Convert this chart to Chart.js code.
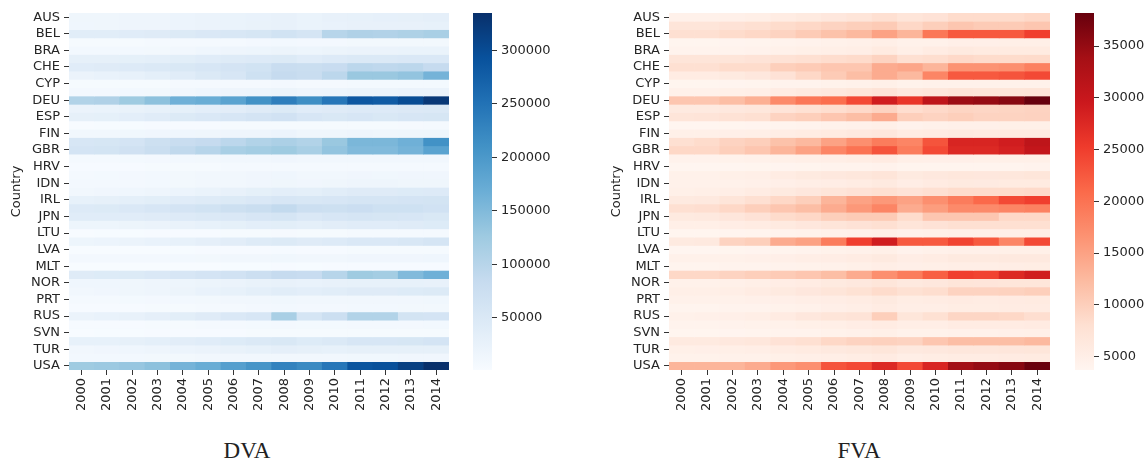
<!DOCTYPE html>
<html>
<head>
<meta charset="utf-8">
<script src="https://cdn.jsdelivr.net/npm/chart.js@4.4.1/dist/chart.umd.min.js"></script>
<style>
  html, body { margin: 0; padding: 0; background: #fff; }
  #wrap { position: relative; width: 1147px; height: 460px; overflow: hidden; background: #fff; }
  canvas { position: absolute; top: 0; }
  .caption { position: absolute; top: 439px; line-height: 23px; font-family: "Liberation Serif", "Times New Roman", serif; font-size: 23px; color: #222; transform: translateX(-50%); }
</style>
</head>
<body>
<div id="wrap">
  <canvas id="dvaMap" style="left:0px" width="455" height="425"></canvas>
  <canvas id="dvaBar" style="left:468px" width="112" height="425"></canvas>
  <canvas id="fvaMap" style="left:600px" width="456" height="425"></canvas>
  <canvas id="fvaBar" style="left:1070px" width="77" height="425"></canvas>
  <div class="caption" style="left:247px">DVA</div>
  <div class="caption" style="left:859px">FVA</div>
</div>
<script>
const years = ["2000","2001","2002","2003","2004","2005","2006","2007","2008","2009","2010","2011","2012","2013","2014"];
const countries = ["AUS","AUT","BEL","BGR","BRA","CAN","CHE","CHN","CYP","CZE","DEU","DNK","ESP","EST","FIN","FRA","GBR","GRC","HRV","HUN","IDN","IND","IRL","ITA","JPN","KOR","LTU","LUX","LVA","MEX","MLT","NLD","NOR","POL","PRT","ROU","RUS","SVK","SVN","SWE","TUR","TWN","USA"];

// one row per country, one value per year
const dvaRows = [
  [15000,15000,16000,17000,19000,21000,23000,24000,27000,23000,26000,28000,29000,30000,32000], // AUS
  [14000,15000,16000,17000,19000,21000,23000,25000,27000,23000,24000,26000,26000,27000,28000], // AUT
  [38000,38000,40000,42000,46000,50000,53000,56000,65000,58000,100000,108000,106000,110000,115000], // BEL
  [4000,4500,5000,5500,6000,6500,7000,8000,9000,8000,8500,9500,9500,10000,10000], // BGR
  [9000,9000,9000,10000,12000,14000,16000,18000,20000,18000,20000,22000,22000,23000,23000], // BRA
  [30000,30000,31000,33000,36000,40000,43000,45000,46000,40000,45000,48000,48000,50000,50000], // CAN
  [40000,42000,45000,48000,52000,55000,60000,65000,80000,78000,82000,95000,92000,95000,85000], // CHE
  [22000,24000,28000,33000,40000,48000,55000,70000,85000,80000,95000,130000,130000,135000,160000], // CHN
  [4000,4000,4500,5000,5500,6000,6500,7000,8000,7000,7000,7500,7500,7500,7500], // CYP
  [8000,8500,9000,10000,12000,14000,16000,18000,20000,17000,18000,20000,20000,21000,22000], // CZE
  [105000,108000,125000,140000,165000,170000,185000,210000,235000,215000,245000,285000,280000,300000,325000], // DEU
  [22000,23000,25000,28000,31000,34000,37000,42000,46000,40000,42000,45000,45000,47000,49000], // DNK
  [30000,31000,34000,40000,46000,50000,55000,60000,66000,55000,52000,55000,52000,55000,57000], // ESP
  [2000,2200,2400,2800,3200,3600,4000,4500,5000,4200,4400,5000,5000,5200,5400], // EST
  [12000,12000,12500,13000,14000,15000,16000,17000,19000,15000,15000,16000,15000,15500,15500], // FIN
  [55000,56000,60000,72000,80000,85000,95000,105000,112000,105000,130000,155000,155000,165000,210000], // FRA
  [60000,62000,68000,78000,90000,100000,115000,120000,125000,115000,135000,150000,150000,160000,185000], // GBR
  [7000,7000,7500,8000,9000,10000,11000,12000,13000,11000,11000,11000,10500,10500,11000], // GRC
  [3000,3200,3500,4000,4500,5000,5500,6000,6500,5500,5500,5500,5500,5600,5800], // HRV
  [7000,7500,8000,9000,10000,11000,12000,13000,14000,12000,12000,13000,12500,13000,13500], // HUN
  [8000,8000,8500,9000,10000,11000,12000,13000,15000,13000,15000,17000,16000,15000,15000], // IDN
  [12000,13000,14000,16000,19000,23000,27000,31000,35000,33000,38000,42000,42000,44000,45000], // IND
  [28000,30000,33000,36000,40000,43000,46000,50000,55000,53000,55000,58000,58000,60000,62000], // IRL
  [45000,46000,50000,55000,60000,65000,72000,78000,88000,75000,72000,76000,70000,70000,66000], // ITA
  [40000,40000,40000,42000,45000,48000,50000,55000,58000,50000,55000,58000,56000,55000,52000], // JPN
  [18000,18000,20000,22000,25000,28000,31000,35000,36000,33000,37000,40000,40000,42000,44000], // KOR
  [2000,2200,2500,2800,3200,3600,4000,4600,5200,4500,5000,5800,6000,6200,6400], // LTU
  [18000,19000,21000,24000,28000,32000,37000,43000,46000,42000,45000,50000,50000,53000,58000], // LUX
  [1500,1600,1800,2000,2300,2600,3000,3500,3800,3400,3600,4000,4200,4300,4400], // LVA
  [8000,8000,8000,8500,9000,10000,11000,12000,12500,11000,12000,13000,13000,13500,14000], // MEX
  [1200,1300,1400,1500,1700,1900,2100,2400,2600,2400,2600,2800,3000,3200,3400], // MLT
  [42000,44000,46000,50000,55000,60000,66000,75000,85000,82000,100000,125000,120000,150000,165000], // NLD
  [14000,14000,15000,16000,18000,20000,22000,25000,27000,24000,26000,28000,28000,28000,27000], // NOR
  [12000,13000,15000,17000,20000,24000,28000,33000,38000,35000,38000,42000,42000,44000,46000], // POL
  [7000,7000,7500,8000,9000,9500,10500,11500,12500,11000,11000,11500,11500,12000,12500], // PRT
  [3000,3300,3700,4200,5000,6000,7000,8000,9000,8000,8500,9000,9000,9500,10000], // ROU
  [22000,24000,27000,32000,36000,42000,50000,55000,115000,58000,75000,105000,105000,62000,60000], // RUS
  [3000,3300,3700,4200,5000,5800,6500,7500,8500,7500,7500,8000,8000,8500,9000], // SVK
  [2000,2200,2400,2700,3000,3300,3700,4200,4800,4200,4200,4400,4400,4600,4800], // SVN
  [28000,28000,30000,33000,37000,40000,44000,48000,52000,44000,48000,55000,55000,57000,60000], // SWE
  [12000,13000,14000,16000,19000,22000,25000,28000,32000,30000,28000,30000,30000,30000,30000], // TUR
  [9000,9000,9000,9500,10000,10500,11000,11500,12000,11000,12000,12500,12500,13000,13500], // TWN
  [125000,128000,132000,140000,160000,170000,190000,205000,230000,220000,245000,290000,295000,315000,335000] // USA
];

const fvaRows = [
  [4500,4500,4700,5000,5500,6000,6500,7000,8000,7000,7500,8500,8500,8500,9000], // AUS
  [7000,7000,7500,8000,8500,9000,9500,10000,10500,9000,10000,11000,10500,10500,11000], // AUT
  [8000,8000,8500,9000,9500,10500,11500,12500,15000,13000,19500,22500,22500,22500,25000], // BEL
  [3800,3800,3900,4000,4100,4300,4500,4700,5000,4500,4600,4900,4900,5000,5000], // BGR
  [4200,4200,4200,4300,4500,4800,5000,5200,5800,5000,5500,6000,5800,5800,5800], // BRA
  [7000,7000,7000,7300,7600,8000,8400,8600,9500,8000,8300,8800,8500,8500,8600], // CAN
  [8000,8000,8500,8500,10000,10500,11000,11000,14000,14500,13000,16500,16500,17000,18500], // CHE
  [5500,5500,6000,6500,7500,9000,10500,12000,14000,12500,18000,22500,22500,23000,24000], // CHN
  [3800,3800,3900,4000,4100,4200,4400,4600,4800,4400,4500,4600,4600,4600,4600], // CYP
  [4500,4600,4800,5000,5500,6000,6300,6800,7300,6300,6700,7200,7000,7000,7200], // CZE
  [11000,11000,12000,13500,17500,19500,20500,24000,29000,26000,31000,34500,35000,36000,38200], // DEU
  [6000,6000,6300,6600,7200,7800,8300,8800,9500,8300,8800,9300,9200,9300,9500], // DNK
  [7000,7200,7600,8000,9500,10000,11000,12000,14000,10000,9500,10000,9500,9500,9600], // ESP
  [3700,3700,3800,3900,4000,4200,4400,4600,4800,4300,4500,4700,4700,4800,4800], // EST
  [4800,4800,4900,5000,5300,5500,5800,6200,6500,5500,5700,6000,5800,5800,5800], // FIN
  [8000,8500,9500,10000,11500,12500,15000,17000,19000,18000,23000,28000,28000,29000,31000], // FRA
  [9000,9000,10000,11000,13000,15000,18000,20000,23000,19000,24000,27500,27500,28500,30500], // GBR
  [4300,4300,4400,4500,4800,5000,5200,5400,5700,5000,4900,4900,4800,4800,4800], // GRC
  [3700,3700,3700,3800,3900,4000,4100,4200,4300,4000,4000,4000,4000,4000,4100], // HRV
  [4500,4600,4800,5000,5500,6000,6300,6600,7000,6000,6300,6600,6500,6600,6800], // HUN
  [4500,4500,4600,4700,4900,5100,5300,5500,6000,5300,5700,6000,5900,5800,5800], // IDN
  [4800,5000,5200,5500,6000,6500,7000,7500,8000,7300,8000,8500,8500,8500,8700], // IND
  [6000,6200,7000,8000,9000,10000,13000,15000,16000,15000,17000,19000,21000,24000,25000], // IRL
  [8000,8200,9000,10000,11000,12000,14000,16000,18000,14000,15500,17500,17500,18000,18500], // ITA
  [6000,6200,6700,7500,8500,9000,10000,10500,10500,8500,11000,11000,11000,9000,9000], // JPN
  [5000,5000,5300,5600,6000,6500,7000,7500,8000,7000,7500,8000,8000,8000,8000], // KOR
  [3800,3800,3900,4000,4100,4300,4500,4700,5000,4500,4700,4900,4900,5000,5000], // LTU
  [6000,6200,9500,10000,14000,15000,19000,25000,29000,22500,22500,24500,22500,18000,24000], // LUX
  [3700,3700,3800,3900,4000,4200,4400,4600,4800,4300,4500,4700,4700,4800,4800], // LVA
  [4500,4500,4600,4700,4900,5100,5300,5600,6000,5300,5600,6000,6000,6100,6200], // MEX
  [4000,4000,4100,4200,4300,4400,4600,4800,5200,4900,5000,5200,5200,5300,5400], // MLT
  [9000,9000,9500,10000,10500,11000,12000,14000,17000,19000,22000,25000,24500,27500,29000], // NLD
  [4500,4500,4700,5000,5300,5600,6000,6300,6800,6200,6500,7000,6900,6800,6800], // NOR
  [5000,5000,5200,5500,6000,6500,7000,7700,8500,7800,8300,9500,9500,9700,10000], // POL
  [4500,4500,4600,4700,4900,5100,5300,5600,6000,5400,5500,5700,5600,5700,5800], // PRT
  [4000,4000,4100,4200,4400,4600,4900,5200,5600,5100,5200,5400,5400,5500,5600], // ROU
  [4600,4700,4900,5200,5700,6500,7000,7300,10000,6800,7800,9200,9200,9000,8200], // RUS
  [4200,4200,4300,4400,4600,4800,5000,5300,5600,5100,5200,5500,5500,5600,5700], // SVK
  [3800,3800,3900,4000,4100,4200,4400,4600,4800,4400,4400,4600,4600,4700,4800], // SVN
  [6000,6000,6300,6600,7500,8000,9000,9500,9800,9500,11000,12000,12000,12000,12500], // SWE
  [4800,4900,5000,5200,5500,5800,6100,6400,6800,6200,6300,6600,6600,6700,6800], // TUR
  [4400,4400,4500,4600,4800,5000,5200,5400,5700,5100,5400,5600,5600,5700,5800], // TWN
  [13000,13000,13000,14000,16000,17000,23000,24000,27500,24000,28000,34000,35000,36000,38000] // USA
];

const dvaTicks = [50000, 100000, 150000, 200000, 250000, 300000];
const fvaTicks = [5000, 10000, 15000, 20000, 25000, 30000, 35000];

const blues = ["#f7fbff","#deebf7","#c6dbef","#9ecae1","#6baed6","#4292c6","#2171b5","#08519c","#08306b"];
const reds = ["#fff5f0","#fee0d2","#fcbba1","#fc9272","#fb6a4a","#ef3b2c","#cb181d","#a50f15","#67000d"];

const tickFont = { family: "'DejaVu Sans', sans-serif", size: 13 };
const textColor = "#262626";

function hexToRgb(h) {
  return [parseInt(h.slice(1, 3), 16), parseInt(h.slice(3, 5), 16), parseInt(h.slice(5, 7), 16)];
}

function cmap(stops, t) {
  t = Math.max(0, Math.min(1, t));
  const p = t * (stops.length - 1);
  const i = Math.min(Math.floor(p), stops.length - 2);
  const f = p - i;
  const a = hexToRgb(stops[i]), b = hexToRgb(stops[i + 1]);
  const c = a.map((v, k) => Math.round(v + (b[k] - v) * f));
  return `rgb(${c[0]},${c[1]},${c[2]})`;
}

function drawHeatmap(id, rows, stops) {
  const all = rows.flat();
  const vmin = Math.min(...all);
  const vmax = Math.max(...all);

  const datasets = countries.map((name, i) => ({
    label: name,
    data: years.map(() => [i, i + 1]),
    backgroundColor: rows[i].map(v => cmap(stops, (v - vmin) / (vmax - vmin))),
    borderWidth: 0,
    grouped: false,
    barPercentage: 1,
    categoryPercentage: 1
  }));

  new Chart(document.getElementById(id), {
    type: "bar",
    data: { labels: years, datasets: datasets },
    options: {
      responsive: false,
      animation: false,
      events: [],
      layout: { padding: { left: 5, right: 5, top: 13, bottom: 0 } },
      plugins: { legend: { display: false }, tooltip: { enabled: false } },
      scales: {
        x: {
          offset: true,
          grid: { display: true, offset: false, drawOnChartArea: false, drawTicks: true, tickLength: 5, color: "#333", lineWidth: 1 },
          border: { display: false },
          ticks: { minRotation: 90, maxRotation: 90, padding: 3, font: tickFont, color: textColor, autoSkip: false },
          afterFit: s => { s.height = 55; }
        },
        y: {
          min: 0,
          max: countries.length,
          reverse: true,
          grid: { display: true, drawOnChartArea: false, drawTicks: true, tickLength: 5, color: "#333", lineWidth: 1 },
          border: { display: false },
          afterBuildTicks: s => {
            s.ticks = countries.map((c, i) => i).filter(i => i % 2 === 0).map(i => ({ value: i + 0.5 }));
          },
          ticks: {
            padding: 4,
            font: tickFont,
            color: textColor,
            autoSkip: false,
            callback: v => countries[Math.round(v - 0.5)]
          },
          title: { display: true, text: "Country", font: tickFont, color: textColor, padding: { top: 4, bottom: 4 } },
          afterFit: s => { s.width = 64; }
        }
      }
    }
  });
  return [vmin, vmax];
}

function drawColorbar(id, range, stops, ticks, axisWidth) {
  const [vmin, vmax] = range;
  new Chart(document.getElementById(id), {
    type: "bar",
    data: {
      labels: [""],
      datasets: [{
        data: [[vmin, vmax]],
        borderWidth: 0,
        barPercentage: 1,
        categoryPercentage: 1,
        backgroundColor: context => {
          const area = context.chart.chartArea;
          if (!area) return stops[0];
          const g = context.chart.ctx.createLinearGradient(0, area.bottom, 0, area.top);
          stops.forEach((c, i) => g.addColorStop(i / (stops.length - 1), c));
          return g;
        }
      }]
    },
    options: {
      responsive: false,
      animation: false,
      events: [],
      layout: { padding: { left: 5, right: 0, top: 13, bottom: 55 } },
      plugins: { legend: { display: false }, tooltip: { enabled: false } },
      scales: {
        x: { display: false },
        y: {
          position: "right",
          min: vmin,
          max: vmax,
          grid: { display: true, drawOnChartArea: false, drawTicks: true, tickLength: 5, color: "#333" },
          border: { display: false },
          afterBuildTicks: s => { s.ticks = ticks.map(v => ({ value: v })); },
          ticks: { padding: 4, font: tickFont, color: textColor, callback: v => String(v) },
          afterFit: s => { s.width = axisWidth; }
        }
      }
    }
  });
}

const dvaRange = drawHeatmap("dvaMap", dvaRows, blues);
const fvaRange = drawHeatmap("fvaMap", fvaRows, reds);
drawColorbar("dvaBar", dvaRange, blues, dvaTicks, 88);
drawColorbar("fvaBar", fvaRange, reds, fvaTicks, 53);
</script>
</body>
</html>
